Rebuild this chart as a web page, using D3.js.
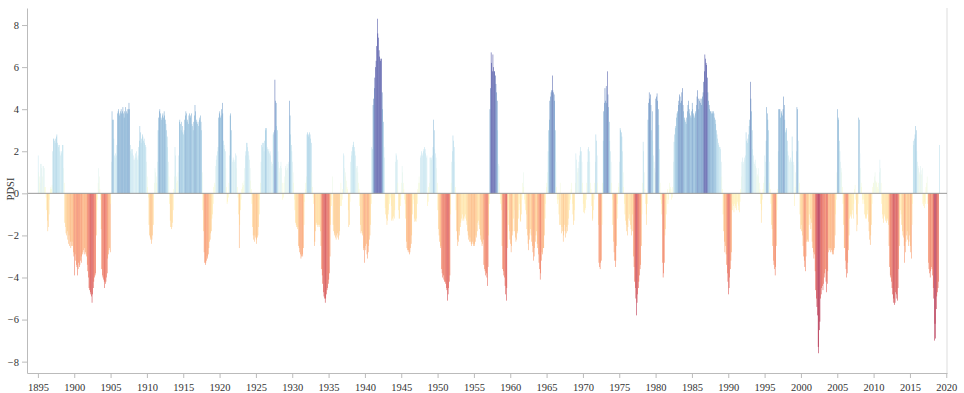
<!DOCTYPE html>
<html>
<head>
<meta charset="utf-8">
<title>PDSI</title>
<script src="https://cdn.jsdelivr.net/npm/d3@7"></script>
<style>
  body { margin: 0; background: #fff; }
  svg { display: block; }
</style>
</head>
<body>
<script>

// monthly PDSI, one row per year
var startYear = 1895;

var pdsi1890s = [
  1.8,1.0,0.8,0.5,1.4,1.4,1.2,0.8,1.3,1.3,1.2,0.3,
  0.3,-0.2,-0.8,-1.3,-1.8,-1.6,-1.0,-0.3,0.2,0.3,0.2,0.4,
  2.0,2.6,2.6,2.5,2.4,2.6,2.7,2.8,2.4,2.3,2.2,2.3,
  2.0,1.8,1.9,2.0,2.3,2.3,1.2,0.5,-1.4,-1.6,-1.9,-2.0,
  -1.8,-2.2,-2.4,-2.0,-2.5,-2.3,-2.6,-2.5,-2.3,-2.5,-2.8,-3.0
];
var pdsi1900s = [
  -3.9,-2.9,-3.2,-3.4,-3.5,-3.9,-3.6,-3.3,-3.5,-3.4,-3.2,-3.0,
  -3.3,-2.9,-2.8,-2.7,-2.9,-2.6,-2.8,-2.9,-3.0,-3.4,-3.7,-4.0,
  -4.5,-4.6,-4.7,-4.8,-4.9,-5.2,-4.8,-4.5,-4.2,-4.0,-3.9,-3.8,
  -2.0,-0.8,-0.3,0.5,1.2,0.8,0.2,-0.3,-1.7,-3.6,-3.9,-4.0,
  -4.1,-4.2,-4.5,-4.3,-4.2,-4.0,-3.8,-3.1,-2.9,-2.7,-2.6,-2.8,
  -0.5,1.5,3.9,3.5,3.5,2.6,1.8,1.7,1.9,1.8,2.3,3.8,
  3.9,4.0,3.7,3.8,3.9,4.0,3.8,3.9,4.1,3.8,3.6,3.9,
  4.1,3.8,3.9,4.0,3.8,4.0,4.3,4.0,2.3,2.0,2.1,1.9,
  2.1,1.8,1.6,1.6,1.7,1.9,2.0,1.7,1.6,1.8,2.2,2.5,
  3.2,2.9,2.4,2.6,2.8,2.7,2.5,2.6,2.4,2.3,2.2,1.5
];
var pdsi1910s = [
  0.8,0.3,-0.2,-1.5,-2.0,-2.1,-2.2,-2.4,-2.2,-2.0,-1.5,-0.3,
  0.5,1.2,1.0,0.8,0.5,1.5,3.0,3.6,3.9,4.0,3.8,3.6,
  3.5,3.7,3.8,3.6,3.9,3.7,3.5,3.3,3.0,2.7,2.2,1.5,
  0.8,-0.5,-1.3,-1.6,-1.7,-1.6,-1.4,-0.8,0.2,0.8,2.2,1.8,
  0.8,0.5,0.6,1.0,1.8,3.4,3.5,3.3,3.0,3.4,3.2,2.9,
  2.8,3.0,3.5,3.7,3.9,3.8,3.4,3.5,3.3,3.7,3.8,3.6,
  3.7,3.8,3.3,3.2,3.0,3.4,3.7,4.2,3.9,3.4,3.5,3.3,
  3.4,3.2,3.5,3.6,3.7,3.4,3.0,1.0,-0.8,-1.8,-2.8,-3.3,
  -3.4,-3.3,-3.2,-3.0,-3.1,-2.9,-2.6,-2.3,-2.2,-1.9,-1.8,-1.2,
  -1.0,-0.5,0.3,0.5,0.4,1.3,1.6,1.8,2.0,2.2,3.6,3.8
];
var pdsi1920s = [
  3.9,3.6,3.7,4.0,4.3,3.8,2.5,2.3,2.1,2.0,1.2,0.3,
  -0.5,-0.4,-0.2,0.5,1.8,3.7,3.8,3.0,1.6,1.5,1.7,1.6,
  1.5,1.6,1.9,1.8,1.2,0.3,-0.2,-1.0,-2.6,-1.5,-0.8,-0.3,
  0.2,0.3,0.5,0.4,0.6,1.2,1.8,2.0,2.4,2.4,2.2,2.0,
  1.8,1.6,1.2,0.6,0.2,-0.5,-1.6,-2.0,-2.2,-2.3,-2.0,-2.1,
  -2.2,-2.4,-2.1,-2.0,-1.6,-1.0,-0.3,0.5,1.5,2.3,2.4,2.2,
  2.4,2.0,2.5,3.1,3.0,3.1,2.2,2.1,2.0,2.1,1.9,2.0,
  1.8,1.5,1.3,1.4,2.8,2.9,3.0,5.4,4.4,4.3,3.2,3.0,
  2.0,1.5,1.2,1.0,1.3,1.5,1.2,0.5,-0.3,-0.2,0.5,0.8,
  1.2,1.3,1.1,1.4,1.2,1.5,1.4,4.4,3.7,2.8,2.3,2.0
];
var pdsi1930s = [
  1.5,1.0,0.5,-0.3,-0.8,-1.4,-1.5,-1.6,-1.7,-1.6,-2.5,-2.6,
  -2.8,-2.9,-3.1,-3.0,-2.9,-3.0,-2.6,-1.5,-0.4,0.2,0.5,0.8,
  2.8,2.9,2.8,2.7,2.9,2.8,2.6,2.4,1.0,0.3,-0.2,-0.5,
  -2.5,-2.3,-1.8,-1.5,-1.4,-1.5,-1.6,-1.5,-1.6,-1.5,-1.8,-2.5,
  -3.6,-3.9,-4.3,-4.7,-4.9,-5.0,-5.2,-5.0,-4.8,-4.6,-4.5,-4.3,
  -4.1,-3.8,-3.0,-1.5,-0.6,-0.3,0.8,-1.5,-1.8,-2.0,-1.9,-2.1,
  -2.2,-2.0,-1.9,-2.1,-2.2,-2.0,-1.8,-0.6,0.5,-0.6,-0.3,0.2,
  1.9,1.8,1.2,0.8,1.0,0.6,0.3,0.2,-0.8,-1.6,-1.5,-0.4,
  1.5,1.8,2.0,2.2,2.3,2.45,2.2,2.0,1.8,1.3,1.2,1.3,
  1.0,0.5,0.2,-0.6,-1.5,-1.9,-1.8,-1.9,-2.0,-2.7,-2.6,-3.3
];
var pdsi1940s = [
  -2.7,-2.5,-2.4,-2.9,-3.1,-2.8,-2.5,-2.2,-2.0,-1.5,-0.5,2.2,
  2.1,4.2,4.5,5.0,5.5,6.0,6.3,7.0,8.3,7.6,7.4,6.8,
  6.5,6.3,6.4,6.4,4.8,4.0,3.4,2.2,1.7,-0.7,-1.0,-1.2,
  -1.5,-1.3,-1.0,-0.8,-0.5,-0.3,-0.2,-0.6,-1.3,-1.2,-1.3,-1.1,
  -1.2,-0.8,1.5,1.9,1.8,1.6,0.5,-0.8,-1.2,-1.2,-0.6,-0.3,
  0.5,1.3,1.0,0.5,0.2,-0.3,-0.5,-1.2,-2.3,-2.6,-2.7,-2.8,
  -2.7,-2.9,-2.8,-2.6,-2.4,-2.0,-1.0,-0.5,-0.3,-1.2,-1.35,-1.3,
  -1.35,-1.2,-0.5,0.2,0.5,0.8,0.5,1.7,1.8,2.0,1.9,1.8,
  2.0,2.1,2.2,2.1,1.9,1.7,1.8,-0.6,-0.4,0.3,0.5,1.7,
  1.7,1.6,1.7,1.8,2.2,3.5,3.0,2.1,1.9,1.7,1.2,0.5
];
var pdsi1950s = [
  -0.8,-1.7,-2.0,-2.3,-2.6,-2.5,-3.6,-3.8,-4.0,-3.9,-4.1,-4.2,
  -4.2,-4.3,-4.5,-4.6,-5.1,-4.8,-4.5,-4.2,-3.9,-1.0,0.5,1.5,
  2.0,2.75,2.5,2.2,1.5,0.3,-0.8,-1.8,-2.2,-2.5,-2.3,-1.8,
  -2.0,-1.6,-1.4,-1.2,-1.3,-1.0,-1.2,-1.3,-1.1,-1.2,-1.0,-1.3,
  -1.5,-1.8,-2.0,-2.2,-2.3,-2.1,-2.3,-2.4,-2.5,-2.3,-2.4,-2.5,
  -2.4,-2.5,-2.3,-2.0,-2.1,-1.8,-1.4,-1.3,-1.5,-1.7,-2.0,-2.2,
  -2.3,-2.5,-2.4,-2.2,-3.4,-3.6,-3.7,-3.9,-3.8,-4.0,-4.4,-3.5,
  -2.0,-0.5,4.0,5.0,6.7,6.2,5.8,6.6,6.0,5.8,5.8,5.6,
  5.2,4.8,4.4,3.0,1.4,1.3,0.5,-0.3,-0.5,-0.8,-2.5,-3.6,
  -3.7,-3.9,-4.0,-4.4,-4.8,-5.1,-4.5,-2.6,-1.5,-0.8,-1.8,-2.2
];
var pdsi1960s = [
  -2.4,-2.8,-2.5,-2.0,-1.8,-1.2,-0.8,-1.8,-2.1,-2.3,-2.2,-1.9,
  -1.8,-1.2,-0.8,-0.5,-1.3,-1.35,-1.0,-0.3,0.5,1.0,0.3,-0.3,
  -0.5,-0.8,-1.0,-1.7,-2.0,-2.4,-2.7,-2.2,-1.9,-1.7,-2.0,-2.3,
  -2.5,-2.8,-3.2,-3.0,-2.6,-2.3,-2.0,-1.8,-2.4,-2.6,-2.9,-3.3,
  -3.6,-4.1,-3.8,-3.2,-2.8,-2.9,-2.6,-2.6,-2.0,-1.2,-0.5,0.3,
  0.5,1.0,2.0,3.0,3.5,4.4,4.6,4.8,4.9,5.6,4.9,4.8,
  4.7,4.4,3.0,1.5,0.3,-0.3,-0.5,-0.3,-1.0,-1.5,0.5,-1.5,
  -1.9,-1.6,-1.8,-2.3,-2.0,-1.5,-1.8,-2.1,-1.9,-1.6,-1.8,-1.5,
  -1.2,-0.8,-0.5,-0.3,0.2,0.5,-0.5,-1.0,-1.5,-1.3,-0.8,0.5,
  1.9,1.6,1.2,1.0,1.2,1.5,1.8,2.0,2.2,2.0,1.5,0.5
];
var pdsi1970s = [
  -0.5,-0.9,-0.95,-0.8,-0.7,-0.3,0.5,1.5,2.1,2.2,2.0,1.5,
  0.5,0.2,-0.6,-1.3,-1.2,-0.8,-0.3,0.5,1.5,2.8,2.5,1.8,
  0.5,-1.5,-3.3,-3.5,-3.6,-3.3,-3.2,-1.5,0.5,2.5,3.9,4.3,
  5.0,4.4,5.1,4.3,5.8,4.7,4.1,3.4,2.5,2.0,1.5,0.5,
  -0.3,-1.5,-2.3,-2.8,-3.2,-3.5,-3.2,-2.5,-1.2,-0.5,0.3,0.5,
  1.5,3.1,3.0,2.9,2.7,2.0,1.0,0.3,-0.5,-1.0,-1.3,-1.5,
  -1.8,-2.0,-1.6,-1.2,-1.0,-1.3,-1.5,-1.7,-2.0,-1.0,-1.8,-3.0,
  -3.5,-4.2,-4.5,-5.0,-5.8,-5.2,-4.8,-4.5,-4.2,-3.9,-3.6,-3.4,
  -2.5,-1.0,0.5,2.45,2.0,1.0,0.2,-0.5,-1.0,-1.5,-0.5,3.5,
  4.3,4.8,4.5,4.7,4.2,3.0,3.9,2.5,1.8,1.5,1.2,1.0
];
var pdsi1980s = [
  4.5,4.6,4.75,4.4,4.0,3.25,2.1,0.5,-0.3,-0.5,-1.0,-3.3,
  -4.0,-3.8,-3.3,-2.0,-1.7,-1.0,-0.3,0.2,-0.5,-0.3,0.2,0.5,
  0.3,0.2,-0.3,-0.2,0.3,1.5,2.45,2.8,3.1,3.2,3.6,3.8,
  3.9,4.2,4.4,4.7,4.6,4.3,4.4,4.8,5.0,4.2,3.9,3.6,
  3.5,3.4,3.3,3.6,3.9,4.2,4.4,4.0,3.8,3.7,3.6,3.9,
  4.3,4.0,3.8,3.7,3.6,3.8,3.9,4.2,4.6,4.9,4.5,4.0,
  4.4,4.5,4.3,4.2,4.5,4.6,4.8,5.3,5.8,6.6,6.4,6.2,
  6.1,5.5,4.8,4.4,4.2,4.0,3.9,3.9,3.8,3.9,3.8,3.9,
  3.8,3.6,3.5,3.3,3.0,2.8,2.6,2.4,2.3,2.2,2.2,2.1,
  1.5,0.8,0.2,-1.0,-1.8,-2.3,-2.8,-2.5,-2.9,-3.4,-3.8,-4.2
];
var pdsi1990s = [
  -4.8,-4.5,-4.0,-3.6,-3.2,-2.8,-0.5,-0.8,-0.6,-0.9,-0.5,-0.7,
  -0.6,-0.8,-0.5,-0.4,-0.8,-0.6,-0.9,-0.4,0.2,0.8,1.5,1.7,
  1.4,1.5,1.7,1.6,1.8,2.9,2.5,2.4,2.6,2.8,3.2,3.5,
  5.3,4.5,3.9,3.0,2.1,1.8,1.5,1.4,1.6,1.3,1.2,0.8,
  0.9,1.2,0.8,0.5,0.2,-0.5,-1.4,-0.8,-0.3,0.2,0.5,0.8,
  1.8,1.5,2.5,4.1,3.8,3.5,3.0,1.5,0.5,0.2,-0.5,-1.5,
  -1.7,-2.5,-3.2,-3.4,-3.6,-3.9,-3.5,-2.5,-0.8,0.2,2.0,4.0,
  4.0,4.0,3.6,3.9,3.8,3.7,4.0,4.6,4.2,3.5,2.9,3.0,
  3.1,2.5,2.0,1.8,1.6,1.5,1.7,1.6,1.5,2.7,2.0,1.5,
  1.35,-0.6,0.3,1.0,2.0,4.1,4.0,2.5,1.5,0.5,-1.0,-1.7
];
var pdsi2000s = [
  -1.5,-1.8,-2.0,-2.5,-3.0,-3.2,-3.5,-3.7,-3.0,-2.3,-2.2,-2.3,
  -2.3,-1.5,-1.0,-1.2,-1.7,-1.4,-2.3,-2.6,-2.8,-3.1,-2.9,-3.7,
  -4.6,-5.0,-5.4,-5.8,-7.3,-7.6,-6.5,-6.1,-5.0,-4.8,-4.5,-4.4,
  -4.6,-4.3,-4.0,-3.8,-3.6,-4.2,-4.7,-4.3,-3.7,-2.8,-2.6,-2.7,
  -2.8,-2.6,-2.7,-2.8,-2.9,-2.9,-2.7,-2.6,-2.0,-1.0,-0.3,1.0,
  4.0,3.6,3.5,2.5,2.0,1.5,1.2,1.0,0.3,-0.5,-1.5,-2.6,
  -2.6,-3.2,-3.6,-4.0,-3.8,-3.3,-2.7,-2.0,-1.2,-1.0,-1.1,-1.2,
  -1.0,-0.8,-1.2,-0.5,0.2,0.4,-0.3,-1.0,-1.8,-1.5,-0.5,3.6,
  3.5,1.9,1.2,0.5,0.3,-0.3,-0.5,-0.3,-0.5,-1.0,-1.2,-1.1,
  -1.2,-1.0,-0.8,-1.35,-1.8,-2.2,-2.45,-2.0,-1.5,-0.5,0.3,0.5
];
var pdsi2010s = [
  0.5,0.8,1.0,0.6,0.5,0.55,0.3,0.2,0.5,1.0,1.6,1.2,
  0.5,-0.5,-1.0,-1.2,-1.4,-1.1,-1.0,-1.3,-1.2,-1.4,-1.3,-1.2,
  -1.5,-2.5,-3.5,-3.9,-4.0,-4.2,-4.5,-4.8,-5.2,-5.0,-5.3,-5.2,
  -4.7,-4.8,-5.0,-5.1,-4.5,-3.6,-2.5,-1.2,-0.8,-1.0,-1.5,-1.8,
  -2.0,-2.1,-2.5,-3.3,-2.8,-2.3,-2.0,-1.8,-2.2,-2.5,-2.3,-2.0,
  -2.5,-2.8,-3.1,-1.5,-0.5,2.5,2.3,2.6,2.8,3.2,3.0,2.0,
  1.5,1.3,1.2,1.0,0.9,1.3,1.1,0.9,1.2,-0.5,-0.6,-0.4,
  -0.7,-0.5,0.3,0.5,0.8,-0.5,-3.3,-3.6,-3.8,-4.0,-3.7,-3.5,
  -3.6,-3.9,-4.5,-5.0,-7.0,-6.2,-6.9,-5.5,-4.9,-4.7,-4.5,-4.2,
  2.3
];

var xTicks = d3.range(1895, 2021, 5);
var yTicks = d3.range(-8, 9, 2);

function makeChart() {
    var width = 964;
    var height = 393;
    var margin = {top: 8, right: 17, bottom: 20, left: 27};

    var values = [].concat(pdsi1890s, pdsi1900s, pdsi1910s, pdsi1920s, pdsi1930s,
        pdsi1940s, pdsi1950s, pdsi1960s, pdsi1970s, pdsi1980s, pdsi1990s, pdsi2000s, pdsi2010s);
    var data = values.map(function (v, i) {
        return {t: startYear + i / 12, v: v};
    });

    var svg = d3.select('body').append('svg')
        .attr('width', width)
        .attr('height', height)
        .style('font-family', '"Liberation Serif", "Times New Roman", serif');

    var x = d3.scaleLinear()
        .domain([1893.5, 2020.1])
        .range([margin.left, width - margin.right]);

    var y = d3.scaleLinear()
        .domain([-8.54, 8.81])
        .range([height - margin.bottom, margin.top]);

    var color = d3.scaleSequential(d3.interpolateRdYlBu).domain([-6, 6]).clamp(true);

    // frame on the right
    svg.append('line')
        .attr('x1', width - margin.right).attr('x2', width - margin.right)
        .attr('y1', margin.top).attr('y2', height - margin.bottom)
        .attr('stroke', '#ddd');

    var step = x(startYear + 1 / 12) - x(startYear);

    svg.append('g')
        .selectAll('rect')
        .data(data)
        .enter()
        .append('rect')
            .attr('x', function (d) { return x(d.t); })
            .attr('width', step * 0.8)
            .attr('y', function (d) { return y(Math.max(0, d.v)); })
            .attr('height', function (d) { return Math.abs(y(d.v) - y(0)); })
            .attr('fill', function (d) { return color(d.v); });

    // zero line
    svg.append('line')
        .attr('x1', margin.left).attr('x2', width - margin.right)
        .attr('y1', y(0)).attr('y2', y(0))
        .attr('stroke', '#999');

    var xAxis = svg.append('g')
        .attr('transform', 'translate(0,' + (height - margin.bottom) + ')')
        .call(d3.axisBottom(x).tickValues(xTicks).tickFormat(d3.format('d'))
            .tickSize(5).tickPadding(6).tickSizeOuter(0));

    var yAxis = svg.append('g')
        .attr('transform', 'translate(' + margin.left + ',0)')
        .call(d3.axisLeft(y).tickValues(yTicks).tickSize(5).tickPadding(3).tickSizeOuter(0));

    [xAxis, yAxis].forEach(function (g) {
        g.attr('font-family', null).attr('font-size', 10.5);
        g.selectAll('.domain, .tick line').attr('stroke', '#bbb');
        g.selectAll('text').attr('fill', '#333');
    });

    svg.append('text')
        .attr('transform', 'rotate(-90)')
        .attr('x', -189)
        .attr('y', 13.5)
        .attr('text-anchor', 'middle')
        .attr('font-size', 10.5)
        .attr('fill', '#333')
        .text('PDSI');
}

makeChart();

</script>
</body>
</html>
